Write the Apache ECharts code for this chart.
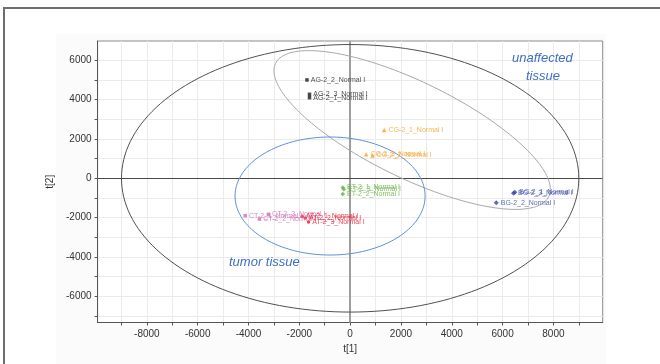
<!DOCTYPE html>
<html>
<head>
<meta charset="utf-8">
<script src="https://cdn.jsdelivr.net/npm/echarts@6/dist/echarts.min.js"></script>
<style>
  html, body { margin: 0; padding: 0; background: #ffffff; }
  #chart { width: 660px; height: 364px; }
</style>
</head>
<body>
<div id="chart"></div>
<script>
// Axis ticks (minor every 1000) and labelled values (every 2000)
const xTickValues = [-9000, -8000, -7000, -6000, -5000, -4000, -3000, -2000, -1000, 0, 1000, 2000, 3000, 4000, 5000, 6000, 7000, 8000, 9000];
const xLabelValues = [-8000, -6000, -4000, -2000, 0, 2000, 4000, 6000, 8000];
const yTickValues = [-7000, -6000, -5000, -4000, -3000, -2000, -1000, 0, 1000, 2000, 3000, 4000, 5000, 6000];
const yLabelValues = [-6000, -4000, -2000, 0, 2000, 4000, 6000];

// Score values t[1], t[2] per sample group
const agNames = ['AG-2_2_Normal I', 'AG-2_3_Normal I', 'AG-2_1_Normal I'];
const agT1 = [-1700, -1600, -1600];
const agT2 = [5000, 4270, 4100];

const cgNames = ['CG-2_1_Normal I', 'CG-2_3_Normal I', 'CG-2_2_Normal I'];
const cgT1 = [1340, 630, 880];
const cgT2 = [2450, 1220, 1160];

const etNames = ['ET-2_1_Normal I', 'ET-2_3_Normal I', 'ET-2_2_Normal I'];
const etT1 = [-290, -250, -290];
const etT2 = [-470, -550, -800];

const bgNames = ['BG-2_3_Normal I', 'BG-2_1_Normal I', 'BG-2_2_Normal I'];
const bgT1 = [6430, 6480, 5750];
const bgT2 = [-760, -710, -1240];

const ctNames = ['CT-2_1_Normal I', 'CT-2_3_Normal I', 'CT-2_2_Normal I'];
const ctT1 = [-4130, -3220, -3570];
const ctT2 = [-1900, -1830, -2070];

const atNames = ['AT-2_1_Normal I', 'AT-2_2_Normal I', 'AT-2_3_Normal I'];
const atT1 = [-1890, -1770, -1640];
const atT2 = [-1940, -2020, -2220];

// Ellipses: centre (t1, t2) followed by two conjugate semi-axis vectors
const hotellingEllipse = [0, 0, 9000, 0, 0, 6800];
const unaffectedEllipse = [2440, 2455, 5376, -3386, -827, -2196];
const tumorEllipse = [-790, -900, 3740, 0, 0, 3000];

function points(names, t1, t2) {
  return names.map((n, i) => ({ name: n, value: [t1[i], t2[i]] }));
}

function scatter(name, names, t1, t2, color, symbol, size) {
  return {
    name: name,
    type: 'scatter',
    symbol: symbol,
    symbolSize: size,
    itemStyle: { color: color },
    z: 5,
    label: {
      show: true,
      position: 'right',
      distance: 2,
      formatter: p => p.name,
      color: color,
      fontFamily: 'Liberation Sans, Arial, sans-serif',
      fontSize: 7
    },
    data: points(names, t1, t2)
  };
}

function ellipse(params, color, width) {
  return {
    type: 'custom',
    coordinateSystem: 'cartesian2d',
    silent: true,
    clip: false,
    z: 2,
    data: [[params[0], params[1]]],
    renderItem: function (p, api) {
      const [cx, cy, ax, ay, bx, by] = params;
      const pts = [];
      for (let i = 0; i <= 180; i++) {
        const t = i / 180 * Math.PI * 2;
        pts.push(api.coord([
          cx + ax * Math.cos(t) + bx * Math.sin(t),
          cy + ay * Math.cos(t) + by * Math.sin(t)
        ]));
      }
      return {
        type: 'polyline',
        shape: { points: pts },
        style: { stroke: color, lineWidth: width, fill: null }
      };
    }
  };
}

const axisFont = { fontFamily: 'Liberation Sans, Arial, sans-serif', fontSize: 10, color: '#333' };
const plainNumber = v => String(v);

const chart = echarts.init(document.getElementById('chart'), null, { renderer: 'canvas' });
chart.setOption({
  animation: false,
  backgroundColor: '#ffffff',
  graphic: [
    {
      type: 'rect', z: -10, silent: true,
      shape: { x: 56, y: 34, width: 550, height: 330 },
      style: { fill: '#fbfbfb', stroke: null }
    },
    {
      type: 'rect', z: -5, silent: true,
      shape: { x: 4, y: 8, width: 700, height: 400 },
      style: { fill: null, stroke: '#6e6e6e', lineWidth: 2 }
    },
    {
      type: 'text', z: 10, left: 512, top: 52,
      style: { text: 'unaffected', fill: '#3f6ec4', font: 'italic 13px "Liberation Sans", Arial, sans-serif' }
    },
    {
      type: 'text', z: 10, left: 526, top: 70,
      style: { text: 'tissue', fill: '#3f6ec4', font: 'italic 13px "Liberation Sans", Arial, sans-serif' }
    },
    {
      type: 'text', z: 10, left: 229, top: 256,
      style: { text: 'tumor tissue', fill: '#3f6ec4', font: 'italic 13px "Liberation Sans", Arial, sans-serif' }
    }
  ],
  grid: {
    left: 97.6, right: 57.3, top: 41, bottom: 41.5,
    show: true, backgroundColor: '#ffffff', borderColor: '#8a8a8a', borderWidth: 1
  },
  xAxis: {
    type: 'value',
    min: -9940, max: 9940,
    name: 't[1]', nameLocation: 'middle', nameGap: 21,
    nameTextStyle: axisFont,
    axisLine: { show: true, onZero: false, lineStyle: { color: '#555', width: 1 } },
    axisTick: { show: true, length: 3, lineStyle: { color: '#555' }, customValues: xTickValues },
    axisLabel: { customValues: xLabelValues, margin: 7, formatter: plainNumber, ...axisFont },
    splitLine: { show: true, lineStyle: { color: '#ebebeb', width: 1 } }
  },
  yAxis: {
    type: 'value',
    min: -7330, max: 6980,
    name: 't[2]', nameLocation: 'middle', nameGap: 33, nameRotate: 90,
    nameTextStyle: axisFont,
    axisLine: { show: true, onZero: false, lineStyle: { color: '#555', width: 1 } },
    axisTick: { show: true, length: 3, lineStyle: { color: '#555' }, customValues: yTickValues },
    axisLabel: { customValues: yLabelValues, margin: 6, formatter: plainNumber, ...axisFont },
    splitLine: { show: true, lineStyle: { color: '#ebebeb', width: 1 } }
  },
  series: [
    {
      type: 'scatter', data: [], silent: true,
      markLine: {
        silent: true, symbol: 'none', label: { show: false }, z: 1,
        data: [
          { xAxis: 0, lineStyle: { color: '#9e9e9e', width: 2, type: 'solid' } },
          { yAxis: 0, lineStyle: { color: '#4a4a4a', width: 1, type: 'solid' } }
        ]
      }
    },
    ellipse(hotellingEllipse, '#505050', 1),
    ellipse(unaffectedEllipse, '#a8a8a8', 1),
    ellipse(tumorEllipse, '#5d90d6', 1),
    scatter('AG', agNames, agT1, agT2, '#1a1a1a', 'rect', 3.5),
    scatter('CG', cgNames, cgT1, cgT2, '#f4a326', 'triangle', 4.5),
    scatter('ET', etNames, etT1, etT2, '#5cb33a', 'diamond', 4.5),
    scatter('BG', bgNames, bgT1, bgT2, '#3446aa', 'diamond', 5),
    scatter('CT', ctNames, ctT1, ctT2, '#d06ab2', 'rect', 3.5),
    scatter('AT', atNames, atT1, atT2, '#e8172b', 'circle', 3.5)
  ]
});
</script>
</body>
</html>
